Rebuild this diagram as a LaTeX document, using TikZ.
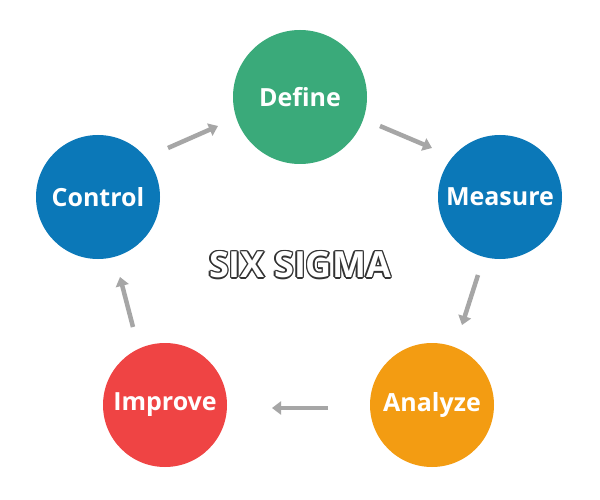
\documentclass[tikz,border=0pt]{standalone}
\usepackage{fontspec}
\setmainfont{Open Sans}
\newcommand\outltxt[1]{\leavevmode\rlap{\color{black!80}\kern-1.3pt#1}\rlap{\color{black!80}\kern1.3pt#1}\rlap{\color{black!80}\raisebox{1.3pt}{#1}}\rlap{\color{black!80}\raisebox{-1.3pt}{#1}}\rlap{\color{black!80}\kern-1pt\raisebox{1pt}{#1}}\rlap{\color{black!80}\kern1pt\raisebox{-1pt}{#1}}\rlap{\color{black!80}\kern-1pt\raisebox{-1pt}{#1}}\rlap{\color{black!80}\kern1pt\raisebox{1pt}{#1}}{\color{white}#1}}
\begin{document}
\begin{tikzpicture}[x=1pt,y=-1pt,
  phase/.style={circle,minimum size=#1,inner sep=0pt,text=white,font=\fontsize{25}{30}\selectfont\bfseries},
  arr/.style={draw=black!35,line width=4.5pt,-{Triangle[length=9pt,width=13pt]}},
  outl/.style={font=\fontsize{36}{42}\selectfont\bfseries}]
\usetikzlibrary{arrows.meta}
\useasboundingbox[fill=white] (0,0) rectangle (600,500);
\node[phase=134pt,fill={rgb,255:red,58;green,170;blue,122}] (def) at (300,97) {Define};
\node[phase=124pt,fill={rgb,255:red,11;green,120;blue,184}] (mea) at (500,197) {Measure};
\node[phase=124pt,fill={rgb,255:red,243;green,156;blue,18}] (ana) at (432,405) {Analyze};
\node[phase=124pt,fill={rgb,255:red,239;green,68;blue,68}] (imp) at (165,405) {Improve};
\node[phase=124pt,fill={rgb,255:red,11;green,120;blue,184}] (con) at (98,197) {Control};
\node[outl] (six) at (300,265) {\outltxt{SIX SIGMA}};
\coordinate (a1s) at (168,148); \coordinate (a1e) at (218,126);
\coordinate (a2s) at (380,126); \coordinate (a2e) at (432,148);
\coordinate (a3s) at (478,275); \coordinate (a3e) at (462,325);
\coordinate (a4s) at (328,408); \coordinate (a4e) at (272,408);
\coordinate (a5s) at (133,327); \coordinate (a5e) at (120,277);
\foreach \s/\e in {a1s/a1e,a2s/a2e,a3s/a3e,a4s/a4e,a5s/a5e}
  \draw[arr] (\s) -- (\e);
\end{tikzpicture}
\end{document}
